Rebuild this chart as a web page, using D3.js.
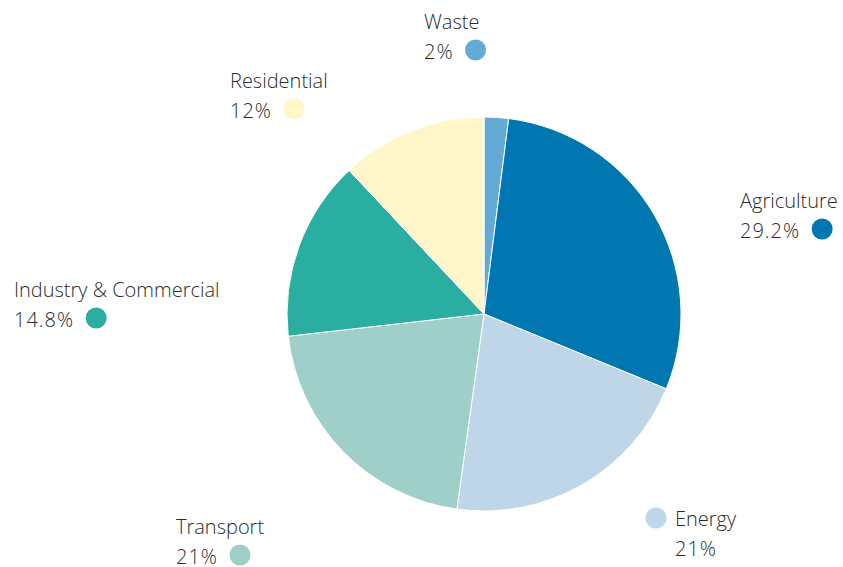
<!DOCTYPE html>
<html><head><meta charset="utf-8">
<script src="https://cdn.jsdelivr.net/npm/d3@7"></script>
<style>html,body{margin:0;padding:0;background:#fff;}svg{display:block;}</style>
</head><body>
<svg id="chart" width="843" height="567"></svg>
<script>
const categories = ["Waste", "Agriculture", "Energy", "Transport", "Industry & Commercial", "Residential"];
const values = [2, 29.2, 21, 21, 14.8, 12];
const valueLabels = ["2%", "29.2%", "21%", "21%", "14.8%", "12%"];
const colors = ["#63aad5", "#0077b0", "#bed6e8", "#9ecfc9", "#2baea2", "#fff6c9"];

// label layout: text left x, first baseline y, dot side
const labelLayout = {
  "Waste": {x: 424, y: 29, dot: "right"},
  "Agriculture": {x: 740, y: 208, dot: "right"},
  "Energy": {x: 675, y: 526, dot: "left"},
  "Transport": {x: 176, y: 534, dot: "right"},
  "Industry & Commercial": {x: 14, y: 297, dot: "right"},
  "Residential": {x: 230, y: 88, dot: "right"}
};

const svg = d3.select("#chart");
const cx = 484, cy = 314, r = 197;
const data = categories.map((c, i) => ({name: c, value: values[i], label: valueLabels[i], color: colors[i]}));
const pie = d3.pie().value(d => d.value).sort(null);
const arc = d3.arc().innerRadius(0).outerRadius(r);
const g = svg.append("g").attr("transform", `translate(${cx},${cy})`);
g.selectAll("path").data(pie(data)).join("path")
  .attr("d", arc).attr("fill", d => d.data.color)
  .attr("stroke", "#fff").attr("stroke-width", 1);

const font = "'Open Sans', sans-serif";
data.forEach(d => {
  const L = labelLayout[d.name];
  const t = svg.append("text").attr("font-family", font).attr("font-weight", 300)
    .attr("font-size", 20).attr("fill", "#2b2b2b");
  t.append("tspan").attr("x", L.x).attr("y", L.y).text(d.name);
  const vt = t.append("tspan").attr("x", L.x).attr("y", L.y + 30)
    .attr("letter-spacing", 1).text(d.label);
  let dx, dy;
  if (L.dot === "right") {
    const w = vt.node().getComputedTextLength();
    dx = L.x + w + 22; dy = L.y + 21;
  } else {
    dx = L.x - 19; dy = L.y - 8;
  }
  svg.append("circle").attr("cx", dx).attr("cy", dy).attr("r", 10.5).attr("fill", d.color);
});
</script>
</body></html>
